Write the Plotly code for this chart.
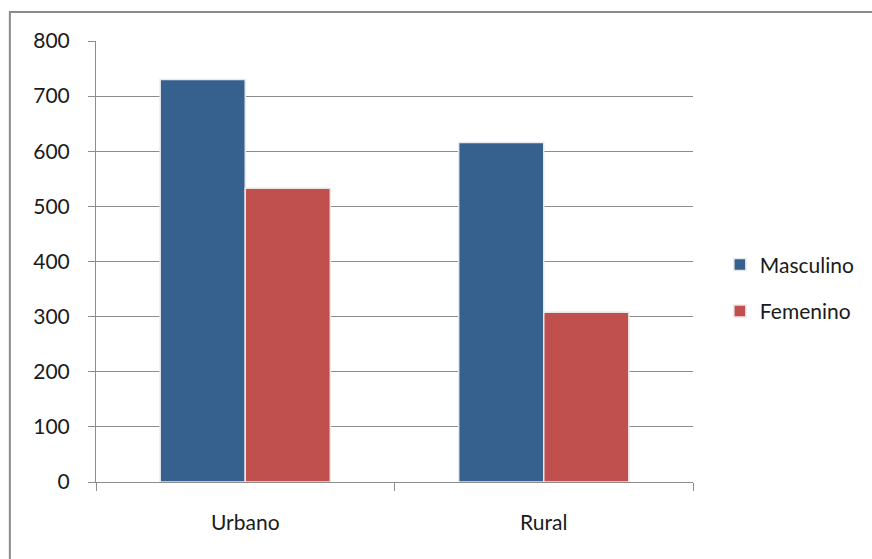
import plotly.graph_objects as go

# Data
categories = ["Urbano", "Rural"]
masculino = [730, 616]
femenino = [533, 308]
y_ticks = [0, 100, 200, 300, 400, 500, 600, 700, 800]

W, H = 872, 559
L, R, T, B = 96, 173, 41, 77

font = dict(family="Lato, 'Open Sans', sans-serif", size=21, color="#1a1a1a")
grid = "#8c8c8c"

fig = go.Figure()
fig.add_trace(go.Bar(
    x=categories, y=masculino, name="Masculino", legendgroup="m",
    marker=dict(color="#36608E", line=dict(color="#e6e9ee", width=1.5)),
))
fig.add_trace(go.Bar(
    x=categories, y=femenino, name="Femenino", legendgroup="f",
    marker=dict(color="#C0504D", line=dict(color="#eee6e6", width=1.5)),
))

pw = W - L - R
ph = H - T - B
# outer chart frame; its right and bottom edges run past the page edge
bx0, bx1, by0, by1 = 9, 900, 12, 600
fig.add_shape(
    type="rect", xref="paper", yref="paper",
    x0=(bx0 - L) / pw, x1=(bx1 - L) / pw,
    y0=(H - B - by1) / ph, y1=(H - B - by0) / ph,
    line=dict(color="#8a8a8a", width=2), fillcolor="rgba(0,0,0,0)", layer="below",
)

fig.update_layout(
    width=W, height=H,
    margin=dict(l=L, r=R, t=T, b=B, pad=0),
    paper_bgcolor="white", plot_bgcolor="white",
    font=font,
    barmode="group", bargap=0.43, bargroupgap=0.0,
    showlegend=True,
    legend=dict(
        x=1.045, y=0.44, xanchor="left", yanchor="middle",
        font=font, tracegroupgap=16, bgcolor="rgba(0,0,0,0)",
    ),
    xaxis=dict(
        showline=True, linecolor=grid, linewidth=1,
        ticks="outside", tickson="boundaries", ticklen=8, tickcolor=grid,
        showgrid=False, ticklabelstandoff=22,
    ),
    yaxis=dict(
        range=[0, 800], tickvals=y_ticks,
        showline=True, linecolor=grid, linewidth=1,
        ticks="outside", ticklen=7, tickcolor=grid,
        showgrid=True, gridcolor=grid, gridwidth=1,
        zeroline=False, ticklabelstandoff=14,
    ),
)

fig.write_html("out.html")
